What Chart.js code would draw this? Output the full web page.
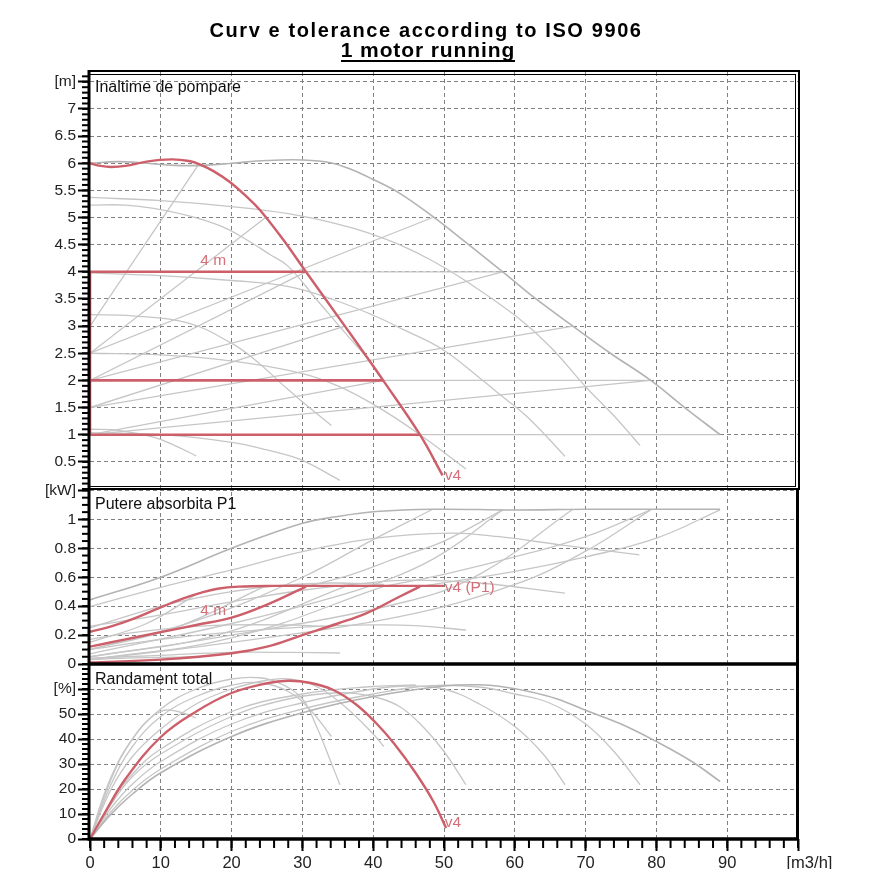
<!DOCTYPE html>
<html>
<head>
<meta charset="utf-8">
<title>Curve tolerance according to ISO 9906</title>
<script src="https://cdn.jsdelivr.net/npm/chart.js@4.4.1/dist/chart.umd.min.js"></script>
<style>
  html, body { margin:0; padding:0; background:#fff; }
  #wrap { position:relative; width:890px; height:890px; overflow:hidden; }
  #cv { position:absolute; left:0; top:0; }
  .ttl { position:absolute; left:0; text-align:center; font-family:"Liberation Sans", Arial, sans-serif; font-weight:bold; color:#000; white-space:nowrap; }
  #t1 { top:20px; width:852px; font-size:20px; line-height:20px; letter-spacing:1.6px; }
  #t2 { top:39px; width:856px; font-size:21px; line-height:21px; letter-spacing:0.9px; }
  #t2 span { display:inline-block; border-bottom:2px solid #000; }
</style>
</head>
<body>
<div id="wrap">
  <canvas id="cv" width="890" height="890"></canvas>
  <div id="t1" class="ttl">Curv e tolerance according to ISO 9906</div>
  <div id="t2" class="ttl"><span>1 motor running</span></div>
</div>
<script>
// ---------- axes: tick values and labels ----------
const X_TICKS  = [0,10,20,30,40,50,60,70,80,90,100];
const X_LABELS = ['0','10','20','30','40','50','60','70','80','90','\u00a0\u00a0\u00a0\u00a0\u00a0[m3/h]'];
const H_TICKS  = [0.5,1,1.5,2,2.5,3,3.5,4,4.5,5,5.5,6,6.5,7,7.5];
const H_LABELS = ['0.5','1','1.5','2','2.5','3','3.5','4','4.5','5','5.5','6','6.5','7','[m]'];
const P_TICKS  = [0,0.2,0.4,0.6,0.8,1,1.2];
const P_LABELS = ['0','0.2','0.4','0.6','0.8','1','[kW]'];
const E_TICKS  = [0,10,20,30,40,50,60];
const E_LABELS = ['0','10','20','30','40','50','[%]'];

// ---------- head H [m] vs Q [m3/h] ----------
const H_V4    = [[0,6.0],[1.5,5.95],[3,5.93],[5,5.95],[8,6.03],[11.5,6.07],[14,6.04],[15.5,5.98],[17.5,5.85],[19.7,5.66],[22,5.4],[24,5.14],[27.3,4.59],[30.5,4.0],[36,3.0],[41.4,2.0],[46.6,1.0],[49.8,0.25]];
const H_RED_4 = [[0,4],[30.5,4]];
const H_RED_2 = [[0,2],[41.4,2]];
const H_RED_1 = [[0,1],[46.6,1]];
const H_RED_V = [[0,1],[0,4]];
const H_MAX   = [[0,6.0],[4,6.03],[8,6.0],[12,5.96],[16,5.96],[20,6.0],[25,6.05],[30,6.06],[34,6.01],[37,5.88],[40,5.7],[43.7,5.45],[48.4,5.02],[53,4.55],[58.3,4.0],[63,3.5],[68.2,3.0],[73.5,2.5],[79.2,2.0],[84,1.5],[89,1.0]];
const H_S1    = [[0,5.37],[10,5.31],[20,5.2],[28,5.07],[35,4.88],[39.5,4.71],[43.7,4.5],[48.4,4.2],[53.1,3.83],[60.2,3.18],[65,2.62],[70.1,1.87],[74,1.35],[77.7,0.8]];
const H_S2    = [[0,5.23],[5,5.23],[9,5.17],[14,5.03],[18.5,4.84],[22,4.6],[25.4,4.32],[28,4.1],[32,3.49],[36,2.88],[39.7,2.33],[41.5,2.0]];
const H_S3    = [[0,3.98],[10,3.93],[20,3.84],[27.9,3.73],[34.3,3.49],[40,3.2],[44.2,2.94],[49.8,2.57],[55,2.05],[57.8,1.75],[62,1.3],[67.1,0.6]];
const H_S4    = [[0,3.21],[6,3.19],[13.8,3.06],[19.9,2.69],[23.2,2.39],[27.9,1.84],[29.6,1.65],[34.1,1.17]];
const H_S5    = [[0,2.5],[10,2.47],[19.9,2.36],[29.6,2.14],[35,1.9],[40.4,1.53],[46.6,1.0],[53.1,0.37]];
const H_S6    = [[0,1.1],[4,1.08],[9.1,0.95],[12,0.8],[15,0.61]];
const H_S7    = [[0,1.04],[10,1.0],[20,0.86],[25,0.72],[29.6,0.55],[35.3,0.16]];
const H_PR6   = [[0,3.0],[15.3,5.97]];
const H_PR5   = [[0,2.5],[24.8,5.0]];
const H_PR4   = [[0,2.0],[30.5,4.0]];
const H_PR3   = [[0,1.5],[36,3.0]];
const H_PR2   = [[0,1.0],[41.4,2.0]];
const H_PM5   = [[0,2.5],[48.4,5.0]];
const H_PM4   = [[0,2.0],[58.3,4.0]];
const H_PM3   = [[0,1.5],[68.2,3.0]];
const H_PM2   = [[0,1.0],[79.2,2.0]];
const H_CP4   = [[30.5,4],[58.3,4]];
const H_CP2   = [[41.4,2],[79.2,2]];
const H_CP1   = [[46.6,1],[89,1]];

// ---------- power P1 [kW] ----------
const P_V4    = [[0,0.223],[3,0.26],[6,0.31],[9.9,0.39],[13,0.45],[15.5,0.49],[18,0.52],[21,0.535],[26,0.54],[35,0.54],[50,0.54]];
const P_RED_4 = [[0,0.12],[5,0.17],[10,0.22],[15,0.27],[20,0.32],[25,0.41],[30.5,0.535]];
const P_RED_1 = [[0,0.01],[10,0.03],[20,0.074],[25,0.12],[30,0.2],[35,0.28],[39,0.35],[43.7,0.465],[46.6,0.535]];
const P_MAX   = [[0,0.443],[10,0.6],[20,0.8],[30,0.973],[35,1.02],[40.4,1.054],[48.4,1.07],[60,1.065],[70,1.07],[80,1.07],[89,1.07]];
const P_S1    = [[0,0.397],[10,0.53],[20,0.65],[30,0.777],[40.4,0.87],[50.8,0.905],[57.8,0.88],[67,0.82],[77.6,0.755]];
const P_S2    = [[0,0.25],[10,0.4],[15.5,0.46],[20,0.5],[26,0.54],[34,0.56],[41.5,0.55]];
const P_S3    = [[0,0.26],[10,0.34],[20,0.43],[30,0.51],[40,0.565],[45,0.58],[55,0.56],[67.1,0.49]];
const P_S4    = [[0,0.17],[5,0.21],[10,0.24],[15,0.26],[20,0.27],[27,0.27],[34.1,0.26]];
const P_S5    = [[0,0.1],[10,0.17],[20,0.22],[30,0.255],[40,0.27],[46,0.265],[53.1,0.235]];
const P_S6    = [[0,0.03],[5,0.04],[10,0.045],[15,0.05]];
const P_S7    = [[0,0.04],[10,0.06],[20,0.08],[28,0.08],[35.3,0.076]];
const P_PR6   = [[0,0.15],[8,0.28],[15.3,0.49]];
const P_PR5   = [[0,0.1],[12,0.25],[24.6,0.535]];
const P_PR3   = [[0,0.05],[18,0.2],[36,0.535]];
const P_PR2   = [[0,0.03],[20,0.18],[41.4,0.535]];
const P_PM5   = [[0,0.1],[15,0.3],[30,0.6],[40,0.86],[48.4,1.07]];
const P_PM4   = [[0,0.07],[20,0.28],[35,0.47],[43.7,0.615],[50,0.77],[58.3,1.066]];
const P_PM3   = [[0,0.05],[20,0.2],[43.7,0.42],[55,0.62],[68.2,1.07]];
const P_PM2   = [[0,0.03],[20,0.15],[43.7,0.327],[60,0.55],[70,0.78],[79.2,1.066]];
const P_CP4   = [[30.5,0.535],[37,0.62],[43.7,0.74],[50,0.85],[58.3,1.066]];
const P_CP2   = [[41.4,0.535],[50,0.62],[60,0.74],[70,0.88],[79.2,1.066]];
const P_CP1   = [[46.6,0.535],[60,0.64],[70,0.74],[80,0.87],[89,1.066]];

// ---------- total efficiency [%] ----------
const E_V4    = [[0,0],[2,10],[5,24],[10,40.8],[15,51],[20,58.4],[25,62.3],[28,63.3],[31,62.5],[34.3,59.7],[37.5,54],[40.4,46.4],[43,38],[46,26.4],[48.5,15],[50.3,4.4]];
const E_MAX   = [[0,0],[3,10],[6,18],[10,26.5],[20,41],[30,50.5],[40,57],[50,61.2],[55,61.7],[58,61],[62,59],[66,56],[70,51.5],[75,46],[80,39],[85,31],[89,23]];
const E_S1    = [[0,0],[3,11],[6,19.5],[10,28],[20,43],[30,52],[40,58],[48,61.3],[55,60.8],[60,58],[64.9,54.4],[70,46],[74,35],[77.7,21.7]];
const E_S2    = [[0,0],[3,20],[6,33],[10,44],[15,54],[20,60],[25,63.5],[28,64],[32,61],[36,53],[40,42],[41.5,37]];
const E_S3    = [[0,0],[3,12.5],[6,22],[10,31],[20,46],[30,54.5],[40,60],[45,61.2],[50,60],[55,54],[60,45],[64,34],[67.1,21.7]];
const E_S4    = [[0,0],[3,22],[6,37],[10,49],[15,57],[20,61.5],[24,62.5],[28,59],[31,52],[34.1,41]];
const E_S5    = [[0,0],[3,14],[6,25],[10,34],[20,49],[28,56],[35,58.5],[40,57],[43.7,53],[47,45],[50,35],[53.1,21.7]];
const E_S6    = [[0,0],[2,18],[4,31],[6,40],[8,47],[10.5,51.5],[13,50.5],[15,48.4]];
const E_S7    = [[0,0],[3,24],[6,40],[10,52],[15,60],[20,64],[24,64.5],[27,62],[30,56],[32,45],[34,31],[35.3,21.7]];
const E_L1    = [[0,0],[3,15],[6,26],[10,36],[20,51],[30,58],[40,61],[46,61.6]];

// ---------- annotations ----------
const PANEL_TITLES = [['yH','Inaltime de pompare'],['yP','Putere absorbita P1'],['yE','Randament total']];
const NOTES = [
  {axis:'yH', q:17.4, v:4.2,   text:'4 m',     align:'center'},
  {axis:'yH', q:50.1, v:0.24,  text:'v4',      align:'left'},
  {axis:'yP', q:17.4, v:0.367, text:'4 m',     align:'center'},
  {axis:'yP', q:50.1, v:0.53,  text:'v4 (P1)', align:'left'},
  {axis:'yE', q:50.1, v:6.4,   text:'v4',      align:'left'}
];

// ---------- styles ----------
const RED = '#cc5f69';
const RED_TXT = '#d46f79';
const GRAY = '#c6c6c6';
const GRAY_DARK = '#b3b3b3';
const GRID = '#808080';
const FONT = '"Liberation Sans", Arial, sans-serif';

function series(points, axis, color, width, curved, order) {
  return {
    data: points.map(p => ({x: p[0], y: p[1]})),
    yAxisID: axis, borderColor: color, borderWidth: width,
    pointRadius: 0, pointHoverRadius: 0, fill: false,
    tension: curved ? 0.4 : 0,
    cubicInterpolationMode: 'default',
    order: order, borderCapStyle: 'butt', borderJoinStyle: 'round'
  };
}

const datasets = [];
// red (drawn on top)
datasets.push(series(H_V4, 'yH', RED, 2.4, true, 0));
[H_RED_4, H_RED_2, H_RED_1, H_RED_V].forEach(d => datasets.push(series(d, 'yH', RED, 2.6, false, 0)));
[P_V4, P_RED_4, P_RED_1].forEach(d => datasets.push(series(d, 'yP', RED, 2.4, true, 0)));
datasets.push(series(E_V4, 'yE', RED, 2.4, true, 0));
// gray
datasets.push(series(H_MAX, 'yH', GRAY_DARK, 1.6, true, 1));
[H_S1, H_S2, H_S3, H_S4, H_S5, H_S6, H_S7].forEach(d => datasets.push(series(d, 'yH', GRAY, 1.3, true, 1)));
[H_PR6, H_PR5, H_PR4, H_PR3, H_PR2, H_PM5, H_PM4, H_PM3, H_PM2, H_CP4, H_CP2, H_CP1].forEach(d => datasets.push(series(d, 'yH', GRAY, 1.3, false, 1)));
datasets.push(series(P_MAX, 'yP', GRAY_DARK, 1.6, true, 1));
[P_S1, P_S2, P_S3, P_S4, P_S5, P_S6, P_S7, P_PR6, P_PR5, P_PR3, P_PR2, P_PM5, P_PM4, P_PM3, P_PM2, P_CP4, P_CP2, P_CP1].forEach(d => datasets.push(series(d, 'yP', GRAY, 1.3, true, 1)));
datasets.push(series(E_MAX, 'yE', GRAY_DARK, 1.6, true, 1));
[E_S1, E_S2, E_S3, E_S4, E_S5, E_S6, E_S7, E_L1].forEach(d => datasets.push(series(d, 'yE', GRAY, 1.3, true, 1)));

function yScale(ticks, labels, min, max, weight, stackWeight) {
  return {
    type: 'linear', position: 'left', stack: 'panels', stackWeight: stackWeight, weight: weight,
    min: min, max: max,
    afterBuildTicks: s => { s.ticks = ticks.map(v => ({value: v})); },
    afterFit: s => { s.width = 62; },
    ticks: { autoSkip: false, padding: 2, color: '#222', font: {family: FONT, size: 15.5}, callback: (v, i) => labels[i] },
    grid: { color: GRID, lineWidth: 1, drawTicks: true, tickLength: 12, tickColor: '#000', tickWidth: 2 },
    border: { display: false, dash: [4, 3] }
  };
}

const decorations = {
  id: 'decorations',
  afterDraw(chart) {
    const {ctx, chartArea: a, scales} = chart;
    const L = a.left, R = a.right;
    const sH = scales.yH, sP = scales.yP, sE = scales.yE, sx = scales.x;
    ctx.save();
    ctx.strokeStyle = '#000';
    const seg = (w, x1, y1, x2, y2) => { ctx.lineWidth = w; ctx.beginPath(); ctx.moveTo(x1, y1); ctx.lineTo(x2, y2); ctx.stroke(); };
    // minor ticks
    const minor = [[sH, 0.1], [sP, 0.05], [sE, 2]];
    minor.forEach(([s, step]) => {
      const n = Math.floor((s.max - s.min) / step + 1e-6);
      for (let i = 0; i <= n; i++) {
        const y = s.getPixelForValue(s.min + i * step);
        seg(2, L - 8, y, L, y);
      }
    });
    for (let i = 0; i <= 50; i++) {
      const x = sx.getPixelForValue(i * 2);
      seg(2, x, a.bottom, x, a.bottom + 9);
    }
    // frames
    const tH = sH.top, bH = sH.bottom, bP = sP.bottom, bE = sE.bottom;
    seg(2, L, tH - 1, R + 2, tH - 1);
    seg(1, L, tH + 2.5, R - 2, tH + 2.5);
    seg(2, R + 1, tH - 2, R + 1, bH + 1);
    seg(1, R - 2.5, tH + 2, R - 2.5, bH - 2);
    seg(1, L, bH - 2.5, R - 2, bH - 2.5);
    seg(2.2, L, bH, R + 2, bH);
    seg(3, R - 0.5, bH, R - 0.5, bE);
    seg(3.5, L, bP, R + 1, bP);
    seg(3.5, L, bE, R + 1, bE);
    seg(3, L - 1, tH - 2, L - 1, bE + 1.7);
    // panel titles
    ctx.fillStyle = '#111';
    ctx.font = '16px ' + FONT;
    ctx.textAlign = 'left';
    ctx.textBaseline = 'alphabetic';
    PANEL_TITLES.forEach(([id, text]) => ctx.fillText(text, L + 5, scales[id].top + 20));
    // red notes
    ctx.fillStyle = RED_TXT;
    ctx.font = '15.5px ' + FONT;
    ctx.textBaseline = 'middle';
    NOTES.forEach(n => {
      ctx.textAlign = n.align;
      ctx.fillText(n.text, sx.getPixelForValue(n.q), scales[n.axis].getPixelForValue(n.v));
    });
    ctx.restore();
  }
};

new Chart(document.getElementById('cv'), {
  type: 'line',
  data: { datasets: datasets },
  options: {
    responsive: false,
    animation: false,
    events: [],
    layout: { padding: { left: 28, right: 92, top: 72, bottom: 21 } },
    plugins: { legend: { display: false }, tooltip: { enabled: false }, title: { display: false } },
    scales: {
      x: {
        type: 'linear', position: 'bottom', min: 0, max: 100,
        afterBuildTicks: s => { s.ticks = X_TICKS.map(v => ({value: v})); },
        afterFit: s => { s.height = 30; },
        ticks: { autoSkip: false, maxRotation: 0, padding: 3, color: '#222', font: {family: FONT, size: 16.5}, callback: (v, i) => X_LABELS[i] },
        grid: { color: ctx => (ctx.tick && (ctx.tick.value === 0 || ctx.tick.value === 100)) ? 'rgba(0,0,0,0)' : GRID,
                lineWidth: 1, drawTicks: true, tickLength: 12, tickColor: '#000', tickWidth: 2 },
        border: { display: false, dash: [4, 3] }
      },
      yE: yScale(E_TICKS, E_LABELS, 0, 70, 1, 175),
      yP: yScale(P_TICKS, P_LABELS, 0, 1.21, 2, 175),
      yH: yScale(H_TICKS, H_LABELS, 0, 7.68, 3, 417)
    }
  },
  plugins: [decorations]
});
</script>
</body>
</html>
